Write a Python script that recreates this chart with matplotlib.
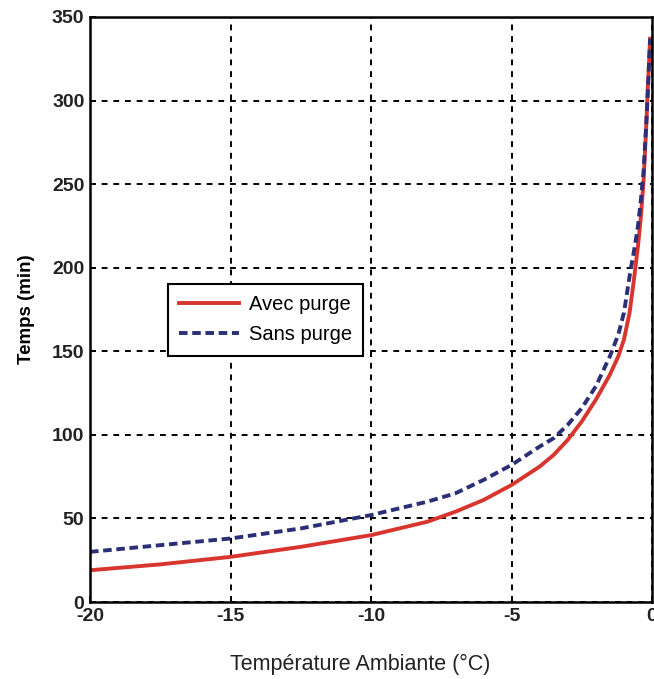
import matplotlib.pyplot as plt

# Temperature (°C) and time (min)
temp_avec = [-20, -17.5, -15, -12.5, -10, -8, -7, -6, -5, -4, -3.5, -3, -2.5, -2,
             -1.5, -1.2, -1, -0.8, -0.65, -0.5, -0.4, -0.3, -0.2, -0.15, -0.1, -0.07]
avec_purge = [19, 22.5, 27, 33, 40, 48, 54, 61, 70, 81, 88, 97, 108, 121,
              136, 147, 157, 173, 192, 213, 230, 252, 287, 308, 325, 337]

temp_sans = [-20, -17.5, -15, -12.5, -10, -8, -7, -6, -5, -4, -3.5, -3, -2.5, -2,
             -1.5, -1.2, -1, -0.77, -0.6, -0.5, -0.4, -0.3, -0.2, -0.15, -0.1, -0.07]
sans_purge = [30, 34, 38, 44, 52, 60, 65, 73, 82, 93, 98, 106, 116, 129,
              147, 160, 173, 198, 214, 225, 240, 258, 288, 305, 325, 337]

xticks = [-20, -15, -10, -5, 0]
yticks = [0, 50, 100, 150, 200, 250, 300, 350]

plt.rcParams['font.family'] = ['Liberation Sans', 'DejaVu Sans']
plt.rcParams['axes.unicode_minus'] = False

fig = plt.figure(figsize=(6.54, 6.79), dpi=100)
ax = fig.add_axes([0.1376, 0.1134, 0.8594, 0.8616])

ax.plot(temp_avec, avec_purge, color='#d9352f', linewidth=2.8, label='Avec purge')
ax.plot(temp_sans, sans_purge, color='#2a2f78', linewidth=2.8, linestyle=(0, (2.2, 1.2)),
        label='Sans purge')

ax.set_xlim(-20, 0)
ax.set_ylim(0, 350)
ax.set_xticks(xticks)
ax.set_yticks(yticks)
ax.tick_params(direction='in', length=4, width=1.2, labelsize=14, pad=4)
for lab in ax.get_xticklabels() + ax.get_yticklabels():
    lab.set_fontweight('bold')
    lab.set_color('#222222')

ax.grid(True, color='black', linestyle=(0, (3, 3)), linewidth=1.4)
for sp in ax.spines.values():
    sp.set_linewidth(1.8)

ax.set_ylabel('Temps (min)', fontsize=13.5, fontweight='bold', labelpad=12)
fig.text(360 / 654, 1 - 664 / 679, 'Température Ambiante (°C)', fontsize=15.5,
         ha='center', va='center', color='#222222')

leg = ax.legend(loc='upper left', bbox_to_anchor=(0.138, 0.543), fontsize=14.5,
                frameon=True, fancybox=False, edgecolor='black', handlelength=3.0,
                borderpad=0.55, labelspacing=0.55, handletextpad=0.5,
                borderaxespad=0)
leg.get_frame().set_linewidth(1.5)
leg.get_frame().set_alpha(1)

plt.savefig('out.png', dpi=100)
